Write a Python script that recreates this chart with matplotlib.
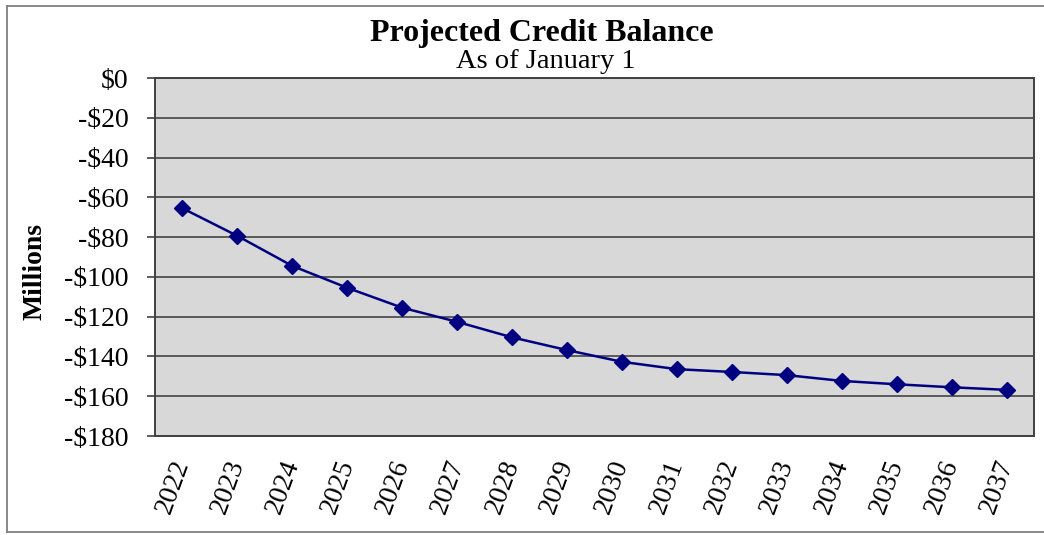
import matplotlib
matplotlib.use("Agg")
import matplotlib.pyplot as plt
from matplotlib.lines import Line2D

# Projected credit balance (millions of dollars), as of January 1
years = ["2022", "2023", "2024", "2025", "2026", "2027", "2028", "2029",
         "2030", "2031", "2032", "2033", "2034", "2035", "2036", "2037"]
balance = [-65.5, -79.4, -94.5, -105.5, -115.5, -122.6, -130.4, -136.8,
           -142.7, -146.4, -147.8, -149.4, -152.3, -154.0, -155.5, -156.8]
y_ticks = [0, -20, -40, -60, -80, -100, -120, -140, -160, -180]
y_tick_labels = ["$0", "-$20", "-$40", "-$60", "-$80", "-$100", "-$120",
                 "-$140", "-$160", "-$180"]

plt.rcParams["font.family"] = ["Liberation Serif", "DejaVu Serif"]

W, H = 1044, 535
fig = plt.figure(figsize=(W / 100, H / 100), dpi=100)
fig.patch.set_facecolor("white")


def px(xp, yp):
    return xp / W, 1 - yp / H


# outer chart frame (top, left and bottom edges)
frame_kw = dict(transform=fig.transFigure, color="#808080", linewidth=1.3)
for (x0, y0), (x1, y1) in [((7, 6), (1044, 6)), ((7, 6), (7, 532)),
                           ((7, 532), (1044, 532))]:
    a, b = px(x0, y0)
    c, d = px(x1, y1)
    fig.add_artist(Line2D([a, c], [b, d], **frame_kw))

left, right, top, bottom = 155, 1034, 78, 436
ax = fig.add_axes([left / W, 1 - bottom / H, (right - left) / W, (bottom - top) / H])
ax.set_facecolor("#d8d8d8")

x = list(range(len(years)))
ax.plot(x, balance, color="#000080", linewidth=1.8, marker="D",
        markersize=8, markerfacecolor="#000080", markeredgecolor="#000080",
        zorder=3)

ax.set_xlim(-0.5, len(years) - 0.5)
ax.set_ylim(-180, 0)
ax.set_yticks(y_ticks)
ax.set_yticklabels(y_tick_labels, fontsize=20)
ax.yaxis.grid(True, color="#5a5a5a", linewidth=1.4)
ax.set_axisbelow(True)
ax.tick_params(axis="y", direction="out", length=6, width=1.2,
               color="#404040", pad=13)

ax.set_xticks(x)
ax.set_xticklabels(years, fontsize=20, rotation=70, ha="right",
                   va="center", rotation_mode="anchor")
ax.tick_params(axis="x", length=0, pad=18)

for side in ["left", "bottom", "top", "right"]:
    ax.spines[side].set_color("#404040")
    ax.spines[side].set_linewidth(1.4)

fig.text(*px(35, 271), "Millions", rotation=90, ha="center", va="center",
         fontsize=20, fontweight="bold")

fig.text(*px(542, 33), "Projected Credit Balance", ha="center",
         va="center", fontsize=23, fontweight="bold")
fig.text(*px(546, 61), "As of January 1", ha="center",
         va="center", fontsize=20.5)

fig.savefig("out.png", dpi=100)
